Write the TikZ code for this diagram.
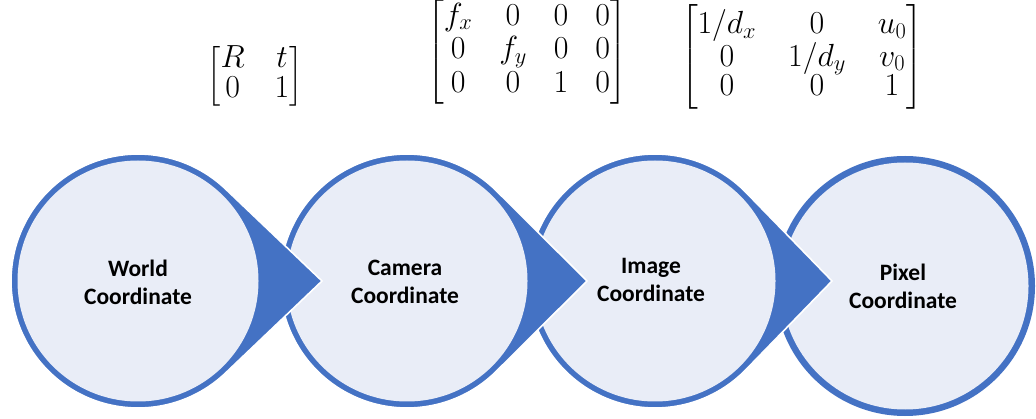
\RequirePackage{fix-cm}
\documentclass[tikz,border=0pt]{standalone}
\usepackage{amsmath}
\usepackage{fontspec}
\setmainfont{Carlito}
\definecolor{cblue}{HTML}{4472C4}
\definecolor{cfill}{HTML}{E9EDF7}
\newcommand\teardrop[5]{% cx, cy, R, tip distance (0 = none), ring
  \begin{scope}[shift={(#1,#2)}]
    \ifdim #4pt>0pt
      \pgfmathsetmacro\tth{acos(#3/#4)}
      \filldraw[fill=cblue, draw=white, line width=1.6pt]
        (\tth:#3) arc[start angle=\tth, end angle=360-\tth, radius=#3] -- (#4,0) -- cycle;
    \else
      \fill[cblue] (0,0) circle[radius=#3];
    \fi
    \fill[cfill] (0,0) circle[radius=#3-#5];
  \end{scope}}
\tikzset{
  lbl/.style={align=center, font=\fontsize{23.5}{28}\selectfont\bfseries, text=black, inner sep=0pt},
  mat/.style={inner sep=0pt, font=\fontsize{32}{32}\selectfont}
}
\begin{document}
\begin{tikzpicture}[x=1pt,y=-1pt]
  \useasboundingbox (0,0) rectangle (1036,419);
  \teardrop{905}{286}{130}{0}{6.5}
  \teardrop{655}{281}{127}{177}{6.5}
  \teardrop{407}{281}{127}{180}{6.5}
  \teardrop{138}{281}{127}{184}{6.5}
  \node[lbl] (w) at (138,282) {World\\Coordinate};
  \node[lbl] (c) at (405,282) {Camera\\Coordinate};
  \node[lbl] (i) at (651,280) {Image\\Coordinate};
  \node[lbl] (p) at (903,286) {Pixel\\Coordinate};
  \node[mat] (m1) at (255,76) {$\setlength\arraycolsep{15pt}\renewcommand\arraystretch{0.95}\begin{bmatrix} R & t\\ 0 & 1\end{bmatrix}$};
  \node[mat] (m2) at (527,52) {$\setlength\arraycolsep{13.5pt}\renewcommand\arraystretch{1.05}\begin{bmatrix} f_x & 0 & 0 & 0\\ 0 & f_y & 0 & 0\\ 0 & 0 & 1 & 0\end{bmatrix}$};
  \node[mat] (m3) at (802,57) {$\setlength\arraycolsep{16pt}\renewcommand\arraystretch{0.9}\begin{bmatrix} 1/d_x & 0 & u_0\\ 0 & 1/d_y & v_0\\ 0 & 0 & 1\end{bmatrix}$};
\end{tikzpicture}
\end{document}
